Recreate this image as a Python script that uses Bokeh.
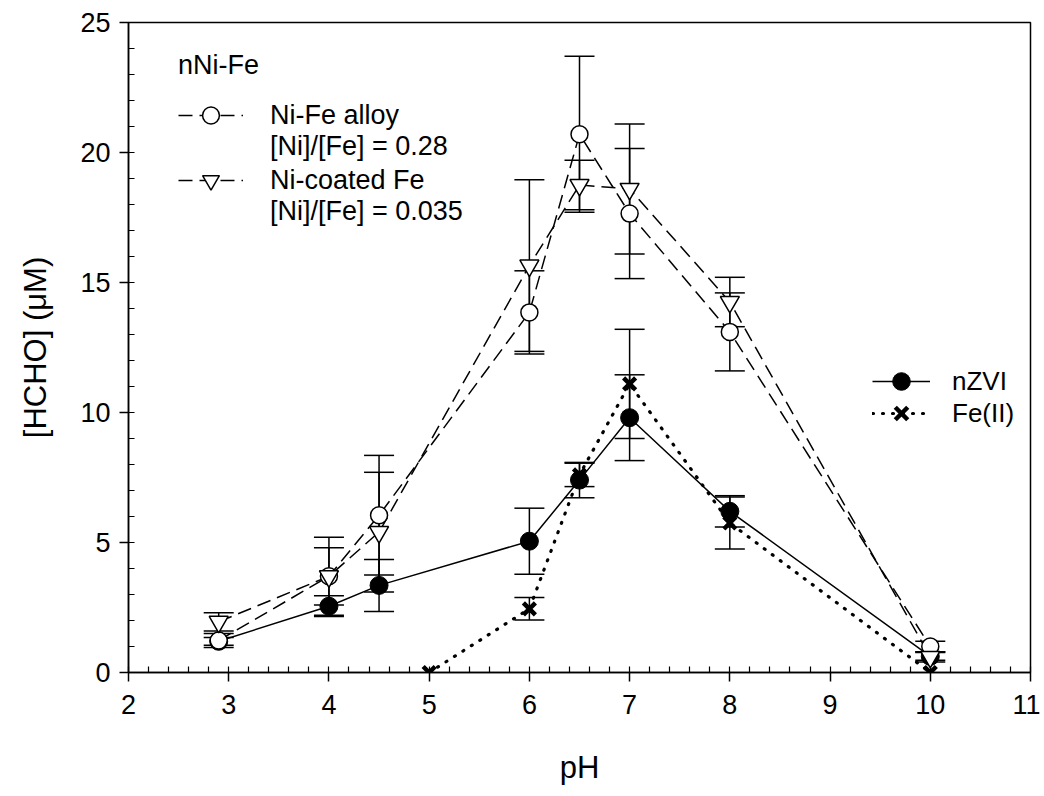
from bokeh.plotting import figure
from bokeh.models import (Whisker, TeeHead, ColumnDataSource, Legend, LegendItem,
                          SingleIntervalTicker, Range1d)
from bokeh.embed import file_html
from bokeh.resources import INLINE

# ---- data ----
ph_all = [2.9, 4, 4.5, 6, 6.5, 7, 8, 10]
alloy = [1.23, 3.7, 6.05, 13.85, 20.7, 17.65, 13.1, 1.0]
alloy_err = [0.27, 1.5, 2.3, 1.6, 3.0, 2.5, 1.5, 0.2]
coated = [1.95, 3.7, 5.4, 15.65, 18.75, 18.6, 14.25, 0.6]
coated_err = [0.35, 1.1, 2.3, 3.3, 0.95, 2.5, 0.95, 0.2]
nzvi = [1.2, 2.55, 3.35, 5.05, 7.4, 9.8, 6.2, 0.62]
nzvi_err = [0.15, 0.4, 1.0, 1.27, 0.68, 1.65, 0.6, 0.15]
ph_fe2 = [5, 6, 6.5, 7, 8, 10]
fe2 = [0.0, 2.45, 7.6, 11.1, 5.75, 0.0]
fe2_err = [0.0, 0.43, 0.45, 2.1, 1.0, 0.0]

FONT = "Liberation Sans"

p = figure(frame_width=902, frame_height=650,
           x_range=Range1d(2, 11), y_range=Range1d(0, 25),
           output_backend="svg", toolbar_location=None,
           min_border_left=128, min_border_right=10, min_border_top=22,
           min_border_bottom=110)
p.background_fill_color = "white"
p.border_fill_color = "white"
p.xgrid.visible = False
p.ygrid.visible = False
p.outline_line_color = "black"
p.outline_line_width = 1.5
p.outline_line_alpha = 1.0

p.xaxis.ticker = SingleIntervalTicker(interval=1, num_minor_ticks=5)
p.yaxis.ticker = SingleIntervalTicker(interval=5, num_minor_ticks=5)
for ax in (p.xaxis[0], p.yaxis[0]):
    ax.axis_line_color = "black"
    ax.axis_line_width = 1.5
    ax.major_tick_line_color = "black"
    ax.major_tick_line_width = 1.5
    ax.minor_tick_line_color = "black"
    ax.minor_tick_line_width = 1.2
    ax.major_tick_out = 9
    ax.major_tick_in = 0
    ax.minor_tick_in = 6
    ax.minor_tick_out = 0
    ax.major_label_text_font = FONT
    ax.major_label_text_font_size = "27px"
    ax.major_label_text_color = "black"
    ax.axis_label_text_font = FONT
    ax.axis_label_text_font_size = "31px"
    ax.axis_label_text_font_style = "normal"
    ax.axis_label_text_color = "black"
p.xaxis.axis_label = "pH"
p.yaxis.axis_label = "[HCHO] (\u03bcM)"
p.xaxis.major_label_standoff = 13
p.yaxis.major_label_standoff = 9
p.xaxis.axis_label_standoff = 33
p.yaxis.axis_label_standoff = 24


def whisk(xs, ys, es):
    sel = [(x, y, e) for x, y, e in zip(xs, ys, es) if e > 0]
    src = ColumnDataSource(dict(x=[s[0] for s in sel],
                                lo=[s[1] - s[2] for s in sel],
                                hi=[s[1] + s[2] for s in sel]))
    w = Whisker(base="x", lower="lo", upper="hi", source=src,
                line_color="black", line_width=1.5,
                lower_head=TeeHead(size=30, line_width=1.5, line_color="black"),
                upper_head=TeeHead(size=30, line_width=1.5, line_color="black"))
    p.add_layout(w)


# lines
l_nzvi = p.line(ph_all, nzvi, line_color="black", line_width=1.5)
l_fe2 = p.line(ph_fe2, fe2, line_color="black", line_width=3.2,
               line_dash="1 9", line_cap="round")
l_alloy = p.line(ph_all, alloy, line_color="black", line_width=1.5, line_dash="14 7")
l_coated = p.line(ph_all, coated, line_color="black", line_width=1.5, line_dash="14 7")

# error bars
whisk(ph_all, nzvi, nzvi_err)
whisk(ph_fe2, fe2, fe2_err)
whisk(ph_all, alloy, alloy_err)
whisk(ph_all, coated, coated_err)

# markers
m_fe2 = p.scatter(ph_fe2, fe2, marker="x", size=17, line_color="black",
                  line_width=4.5)
m_nzvi = p.scatter(ph_all, nzvi, marker="circle", size=18,
                   fill_color="black", line_color="black")
m_alloy = p.scatter(ph_all, alloy, marker="circle", size=17,
                    fill_color="white", line_color="black", line_width=1.5)
m_coated = p.scatter(ph_all, coated, marker="inverted_triangle", size=19,
                     fill_color="white", line_color="black", line_width=1.5)
dummy = p.scatter(x=[], y=[], alpha=0)


def one_row(label, renderers, loc, gw, gh, standoff, fs, title=None):
    lg = Legend(items=[LegendItem(label=label, renderers=renderers)],
                location=loc)
    if title is not None:
        lg.title = title
        lg.title_text_font = FONT
        lg.title_text_font_size = fs
        lg.title_text_font_style = "normal"
        lg.title_text_color = "black"
        lg.title_standoff = 13
    lg.border_line_color = None
    lg.background_fill_alpha = 0
    lg.label_text_font = FONT
    lg.label_text_font_size = fs
    lg.label_text_color = "black"
    lg.padding = 0
    lg.margin = 0
    lg.spacing = 0
    lg.glyph_width = gw
    lg.glyph_height = gh
    lg.label_height = 24
    lg.label_standoff = standoff
    lg.inactive_fill_alpha = 0
    p.add_layout(lg)


# nNi-Fe legend (top left)
one_row("Ni-Fe alloy", [l_alloy, m_alloy], (50, 536), 65, 42, 27, "27px", title="nNi-Fe")
one_row("[Ni]/[Fe] = 0.28", [dummy], (50, 505), 65, 42, 27, "27px")
one_row("Ni-coated Fe", [l_coated, m_coated], (50, 471), 65, 42, 27, "27px")
one_row("[Ni]/[Fe] = 0.035", [dummy], (50, 440), 65, 42, 27, "27px")

# nZVI / Fe(II) legend (right)
one_row("nZVI", [l_nzvi, m_nzvi], (744, 269), 58, 44, 22, "26px")
one_row("Fe(II)", [l_fe2, m_fe2], (744, 237), 58, 44, 22, "26px")

open("out.html", "w").write(file_html(p, INLINE))
